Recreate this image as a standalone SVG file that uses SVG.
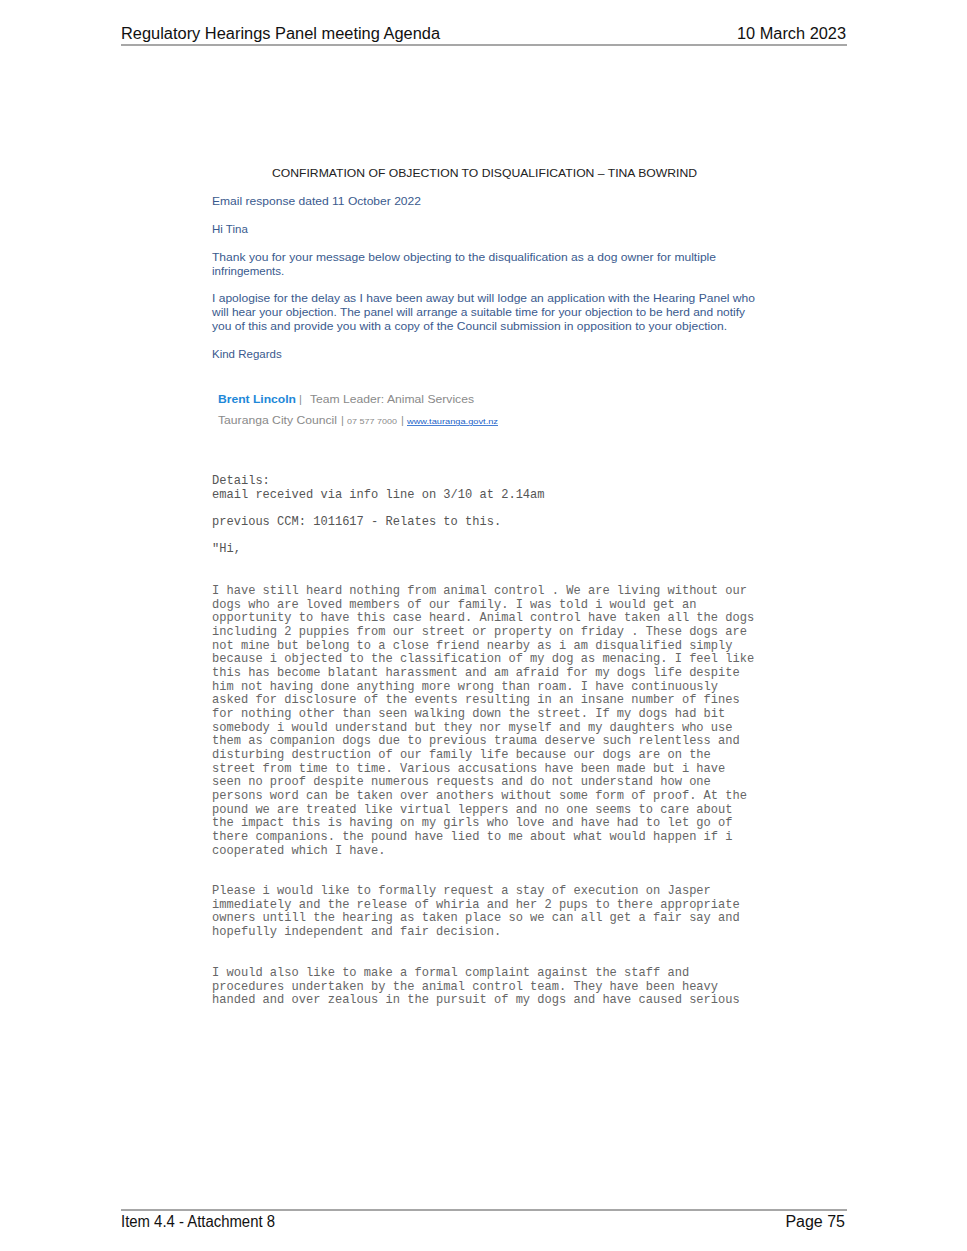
<svg xmlns="http://www.w3.org/2000/svg" width="967" height="1251" viewBox="0 0 967 1251">
<style>
.hdr{font-family:"Liberation Sans",Arial,sans-serif;font-size:16px;fill:#111}
.rule{stroke:#8a8a8a;stroke-width:1.5}
.title{font-family:"Liberation Sans",Arial,sans-serif;font-size:11.5px;fill:#222}
.blue{font-family:"Liberation Sans",Arial,sans-serif;font-size:11.5px;fill:#3a5a8e}
.signame{font-family:"Liberation Sans",Arial,sans-serif;font-size:11.5px;font-weight:bold;fill:#1e88d8}
.sig{font-family:"Liberation Sans",Arial,sans-serif;font-size:11px;fill:#8a8a8a}
.sigsm{font-family:"Liberation Sans",Arial,sans-serif;font-size:8px;fill:#8a8a8a}
.link{font-family:"Liberation Sans",Arial,sans-serif;font-size:8px;fill:#1a5fc8;text-decoration:underline}
.mono{font-family:"Liberation Mono","Courier New",monospace;font-size:12.05px;fill:#666}
.monod{fill:#555}
</style>
<rect width="967" height="1251" fill="#fff"/>
<g id="header">
<text class="hdr" x="121" y="39" textLength="319" lengthAdjust="spacingAndGlyphs">Regulatory Hearings Panel meeting Agenda</text>
<text class="hdr" x="846" y="39" text-anchor="end" textLength="109" lengthAdjust="spacingAndGlyphs">10 March 2023</text>
<line class="rule" x1="121" y1="45" x2="847" y2="45"/>
</g>
<g id="email-response">
<text class="title" x="272" y="177" textLength="425" lengthAdjust="spacingAndGlyphs">CONFIRMATION OF OBJECTION TO DISQUALIFICATION – TINA BOWRIND</text>
<text class="blue" x="212" y="205" textLength="209" lengthAdjust="spacingAndGlyphs">Email response dated 11 October 2022</text>
<text class="blue" x="212" y="233">Hi Tina</text>
<text class="blue" x="212" y="261" textLength="504" lengthAdjust="spacingAndGlyphs">Thank you for your message below objecting to the disqualification as a dog owner for multiple</text>
<text class="blue" x="212" y="275">infringements.</text>
<text class="blue" x="212" y="302" textLength="543" lengthAdjust="spacingAndGlyphs">I apologise for the delay as I have been away but will lodge an application with the Hearing Panel who</text>
<text class="blue" x="212" y="316" textLength="533" lengthAdjust="spacingAndGlyphs">will hear your objection. The panel will arrange a suitable time for your objection to be herd and notify</text>
<text class="blue" x="212" y="330" textLength="515" lengthAdjust="spacingAndGlyphs">you of this and provide you with a copy of the Council submission in opposition to your objection.</text>
<text class="blue" x="212" y="358">Kind Regards</text>
</g>
<g id="signature">
<text class="signame" x="218" y="403" textLength="78" lengthAdjust="spacingAndGlyphs">Brent Lincoln</text>
<text class="sig" x="299" y="403">|</text>
<text class="sig" x="310" y="403" textLength="164" lengthAdjust="spacingAndGlyphs">Team Leader: Animal Services</text>
<text class="sig" x="218" y="424" font-size="12" textLength="119" lengthAdjust="spacingAndGlyphs">Tauranga City Council</text>
<text class="sig" x="341" y="424">|</text>
<text class="sigsm" x="347" y="424" textLength="50" lengthAdjust="spacingAndGlyphs">07 577 7000</text>
<text class="sig" x="401" y="424">|</text>
<text class="link" x="407" y="424" textLength="91" lengthAdjust="spacingAndGlyphs">www.tauranga.govt.nz</text>
</g>
<g id="details">
<text class="mono monod" x="212" y="484">Details:</text>
<text class="mono monod" x="212" y="498">email received via info line on 3/10 at 2.14am</text>
<text class="mono monod" x="212" y="525">previous CCM: 1011617 - Relates to this.</text>
<text class="mono monod" x="212" y="552">"Hi,</text>
</g>
<g id="message">
<text class="mono" x="212" y="594">I have still heard nothing from animal control . We are living without our</text>
<text class="mono" x="212" y="607.7">dogs who are loved members of our family. I was told i would get an</text>
<text class="mono" x="212" y="621.3">opportunity to have this case heard. Animal control have taken all the dogs</text>
<text class="mono" x="212" y="635">including 2 puppies from our street or property on friday . These dogs are</text>
<text class="mono" x="212" y="648.6">not mine but belong to a close friend nearby as i am disqualified simply</text>
<text class="mono" x="212" y="662.3">because i objected to the classification of my dog as menacing. I feel like</text>
<text class="mono" x="212" y="676">this has become blatant harassment and am afraid for my dogs life despite</text>
<text class="mono" x="212" y="689.6">him not having done anything more wrong than roam. I have continuously</text>
<text class="mono" x="212" y="703.3">asked for disclosure of the events resulting in an insane number of fines</text>
<text class="mono" x="212" y="717">for nothing other than seen walking down the street. If my dogs had bit</text>
<text class="mono" x="212" y="730.6">somebody i would understand but they nor myself and my daughters who use</text>
<text class="mono" x="212" y="744.3">them as companion dogs due to previous trauma deserve such relentless and</text>
<text class="mono" x="212" y="758">disturbing destruction of our family life because our dogs are on the</text>
<text class="mono" x="212" y="771.6">street from time to time. Various accusations have been made but i have</text>
<text class="mono" x="212" y="785.3">seen no proof despite numerous requests and do not understand how one</text>
<text class="mono" x="212" y="799">persons word can be taken over anothers without some form of proof. At the</text>
<text class="mono" x="212" y="812.6">pound we are treated like virtual leppers and no one seems to care about</text>
<text class="mono" x="212" y="826.3">the impact this is having on my girls who love and have had to let go of</text>
<text class="mono" x="212" y="840">there companions. the pound have lied to me about what would happen if i</text>
<text class="mono" x="212" y="853.6">cooperated which I have.</text>
<text class="mono" x="212" y="894">Please i would like to formally request a stay of execution on Jasper</text>
<text class="mono" x="212" y="907.7">immediately and the release of whiria and her 2 pups to there appropriate</text>
<text class="mono" x="212" y="921.3">owners untill the hearing as taken place so we can all get a fair say and</text>
<text class="mono" x="212" y="935">hopefully independent and fair decision.</text>
<text class="mono" x="212" y="976">I would also like to make a formal complaint against the staff and</text>
<text class="mono" x="212" y="989.7">procedures undertaken by the animal control team. They have been heavy</text>
<text class="mono" x="212" y="1003.3">handed and over zealous in the pursuit of my dogs and have caused serious</text>
</g>
<g id="footer">
<line class="rule" x1="121" y1="1210" x2="847" y2="1210"/>
<text class="hdr" x="121" y="1227" textLength="154" lengthAdjust="spacingAndGlyphs">Item 4.4 - Attachment 8</text>
<text class="hdr" x="845" y="1227" text-anchor="end">Page 75</text>
</g>
</svg>
